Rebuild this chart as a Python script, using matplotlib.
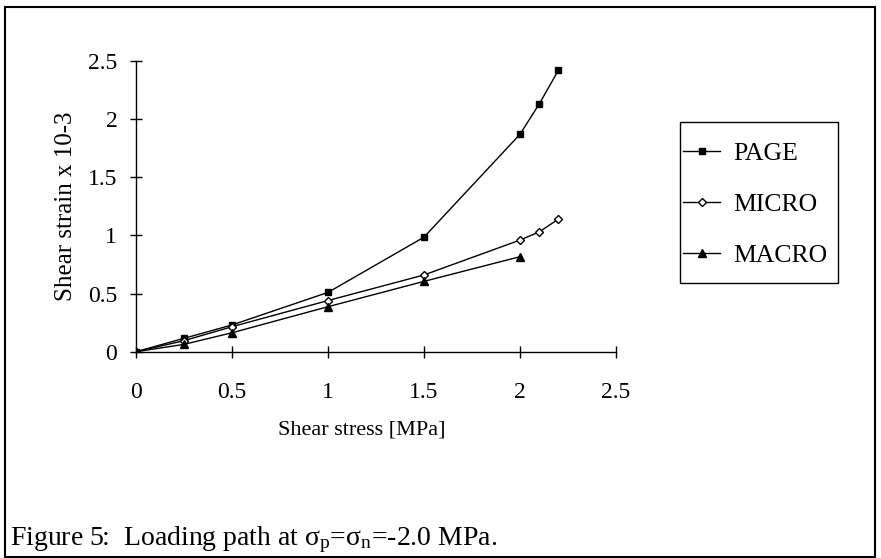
import matplotlib
matplotlib.use('Agg')
import matplotlib.pyplot as plt
from matplotlib.patches import Rectangle

# 폰트 설정 (Times 계열)
plt.rcParams['font.family'] = ['Liberation Serif', 'DejaVu Serif']
plt.rcParams['mathtext.fontset'] = 'custom'
plt.rcParams['mathtext.rm'] = 'Liberation Serif'
plt.rcParams['mathtext.it'] = 'Liberation Serif:italic'

# 데이터
page_x = [0, 0.25, 0.5, 1, 1.5, 2, 2.1, 2.2]
page_y = [0, 0.115, 0.23, 0.51, 0.985, 1.87, 2.13, 2.42]

micro_x = [0, 0.25, 0.5, 1, 1.5, 2, 2.1, 2.2]
micro_y = [0, 0.095, 0.215, 0.44, 0.66, 0.96, 1.03, 1.14]

macro_x = [0, 0.25, 0.5, 1, 1.5, 2]
macro_y = [0, 0.063, 0.163, 0.387, 0.605, 0.817]

x_ticks = [0, 0.5, 1, 1.5, 2, 2.5]
y_ticks = [0, 0.5, 1, 1.5, 2, 2.5]

fig = plt.figure(figsize=(8.81, 5.58), dpi=100)
ax = fig.add_axes([0.1544, 0.3697, 0.5448, 0.521])

ax.plot(page_x, page_y, color='black', lw=1, marker='s', ms=4, label='PAGE')
ax.plot(micro_x, micro_y, color='black', lw=1, marker='D', ms=4.5,
        mfc='white', mec='black', mew=1, label='MICRO')
ax.plot(macro_x, macro_y, color='black', lw=1, marker='^', ms=5.5, label='MACRO')

ax.set_xlim(0, 2.5)
ax.set_ylim(0, 2.5)
ax.set_xticks(x_ticks)
ax.set_yticks(y_ticks)
ax.set_xticklabels([f'{t:g}' for t in x_ticks])
ax.set_yticklabels([f'{t:g}' for t in y_ticks])
ax.tick_params(direction='inout', length=9, width=1, labelsize=17)
ax.tick_params(axis='x', pad=17)
ax.tick_params(axis='y', pad=9)
for s in ['top', 'right']:
    ax.spines[s].set_visible(False)
for s in ['left', 'bottom']:
    ax.spines[s].set_linewidth(1)

ax.set_xlabel('Shear stress [MPa]', fontsize=16)
ax.set_ylabel('Shear strain x 10-3', fontsize=18)
ax.xaxis.set_label_coords(0.47, -0.235)
ax.yaxis.set_label_coords(-0.124, 0.5)

# 범례 (테두리는 따로 그림)
leg = ax.legend(loc='upper left', bbox_to_anchor=(683 / 881, 1 - 142 / 558),
                bbox_transform=fig.transFigure, fontsize=18.5, frameon=False,
                handlelength=1.45, labelspacing=1.1, borderpad=0,
                handletextpad=0.5, borderaxespad=0)
fig.patches.append(Rectangle((680 / 881, 1 - 283 / 558), 158 / 881, 161 / 558,
                             transform=fig.transFigure, fill=False,
                             edgecolor='black', lw=1))

# 캡션
fig.text(10 / 881, 1 - 545 / 558,
         r'Figure 5:  Loading path at σ$_{\mathrm{p}}$=σ$_{\mathrm{n}}$=-2.0 MPa.',
         fontsize=20, ha='left', va='baseline')

# 바깥 테두리
fig.patches.append(Rectangle((5 / 881, 1 / 558), 870 / 881, 550 / 558,
                             transform=fig.transFigure, fill=False,
                             edgecolor='black', lw=1.5))

fig.savefig('out.png', dpi=100)
